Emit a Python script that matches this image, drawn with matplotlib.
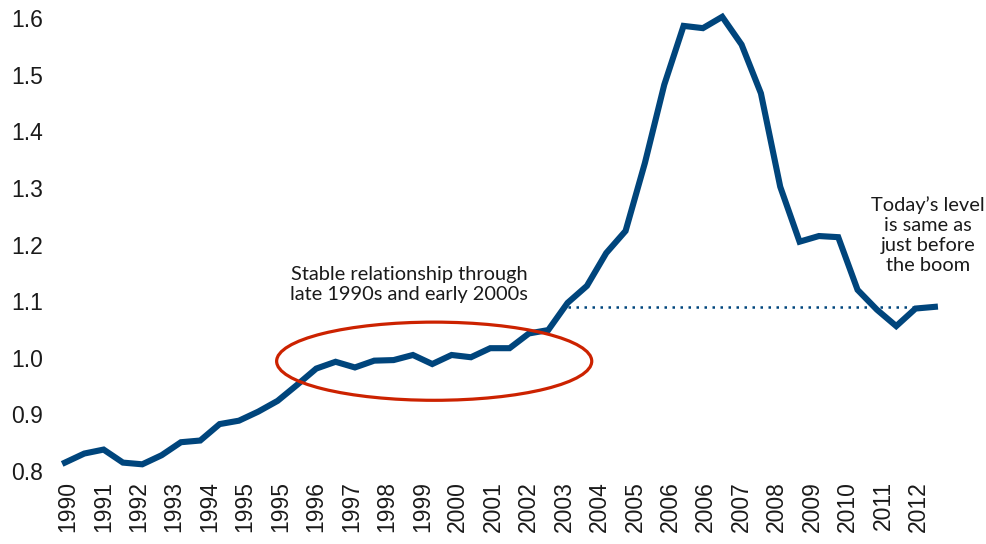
import matplotlib
matplotlib.use("Agg")
import matplotlib.pyplot as plt
from matplotlib.patches import Ellipse
import numpy as np

# Semi-annual observations, 1990 H1 .. 2012 H2
values = [0.815, 0.831, 0.838, 0.815, 0.812, 0.828, 0.851, 0.854, 0.883, 0.889,
          0.905, 0.924, 0.952, 0.981, 0.993, 0.983, 0.995, 0.996, 1.005, 0.989,
          1.005, 1.001, 1.017, 1.017, 1.043, 1.049, 1.097, 1.127, 1.185, 1.224,
          1.344, 1.482, 1.586, 1.582, 1.602, 1.553, 1.467, 1.302, 1.205, 1.215,
          1.213, 1.120, 1.085, 1.056, 1.087, 1.090]

tick_labels = ["1990", "1991", "1992", "1993", "1994", "1995", "1995", "1996",
               "1997", "1998", "1999", "2000", "2001", "2002", "2003", "2004",
               "2005", "2006", "2006", "2007", "2008", "2009", "2010", "2011", "2012"]

y_ticks = [0.8, 0.9, 1.0, 1.1, 1.2, 1.3, 1.4, 1.5, 1.6]

note_stable = "Stable relationship through\nlate 1990s and early 2000s"
note_today = "Today\u2019s level\nis same as\njust before\nthe boom"

line_color = "#00457C"
red = "#CC2200"

fig = plt.figure(figsize=(9.87, 5.44), dpi=100)
ax = fig.add_axes([0.056, 0.134, 0.901, 0.833])

x = np.arange(len(values))
ax.plot(x, values, color=line_color, lw=4.4, solid_joinstyle="miter", clip_on=False, zorder=3)

# dotted "today's level" reference line
ax.hlines(values[-1], 26, 44, colors=line_color, linestyles=(0, (1, 2.2)), lw=1.8, zorder=2)

# ellipse highlighting stable period
ell = Ellipse((19.1, 0.994), width=16.3, height=0.138, fill=False,
              edgecolor=red, lw=2.3, zorder=4, clip_on=False)
ax.add_patch(ell)

ax.text(17.8, 1.129, note_stable, ha="center", va="center", fontsize=14.4,
        family="Lato", color="#1a1a1a", linespacing=1.2)
ax.text(44.65, 1.217, note_today, ha="center", va="center", fontsize=14.4,
        family="Lato", color="#1a1a1a", linespacing=1.2, clip_on=False)

ax.set_xlim(-0.5, len(values) - 0.5)
ax.set_ylim(0.8, 1.6)
tick_pos = [0.15 + k * 44 / 24 for k in range(len(tick_labels))]
ax.set_xticks(tick_pos)
ax.set_xticklabels(tick_labels, rotation=90, fontsize=16.5, family="Liberation Sans")
ax.set_yticks(y_ticks)
ax.set_yticklabels([f"{v:.1f}" for v in y_ticks], fontsize=16.5, family="Liberation Sans")
ax.tick_params(axis="both", length=0, colors="#1a1a1a")
ax.tick_params(axis="y", pad=9)
ax.tick_params(axis="x", pad=7)
for s in ax.spines.values():
    s.set_visible(False)

fig.savefig("out.png", dpi=100)
